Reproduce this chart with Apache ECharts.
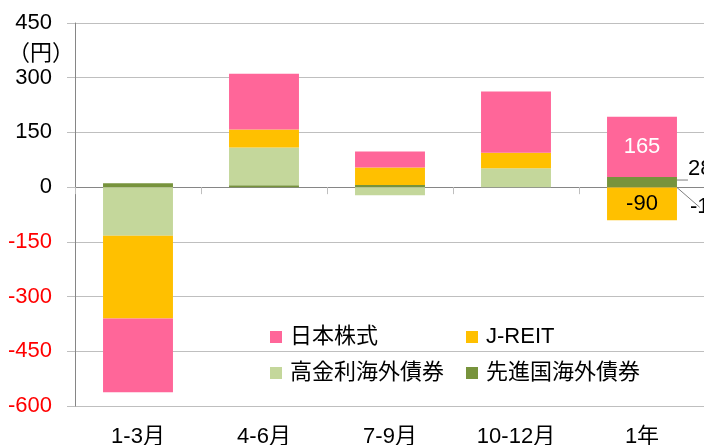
<!DOCTYPE html>
<html><head><meta charset="utf-8">
<script src="https://cdn.jsdelivr.net/npm/echarts@6/dist/echarts.min.js"></script>
<style>html,body{margin:0;padding:0;background:#fff}#c{width:704px;height:445px}</style>
</head><body><div id="c"></div>
<script>
const categories = ['1-3月', '4-6月', '7-9月', '10-12月', '1年'];
const seriesNames = ['先進国海外債券', '高金利海外債券', 'J-REIT', '日本株式'];
const developedBonds = [11, 5, 6, 0, 28];
const highYieldBonds = [-133, 104, -22, 52, -1];
const jreit = [-227, 49, 48, 42, -90];
const japanStocks = [-202, 153, 44, 168, 165];
const yTicks = { min: -600, max: 450, interval: 150 };
const unitLabel = '（円）';

const FONT = "'Liberation Sans', 'Noto Sans CJK JP', sans-serif";
const colors = { '日本株式': '#FF6699', 'J-REIT': '#FFC000', '高金利海外債券': '#C4D79B', '先進国海外債券': '#77933C' };
const values = { '先進国海外債券': developedBonds, '高金利海外債券': highYieldBonds, 'J-REIT': jreit, '日本株式': japanStocks };
const lastIdx = categories.length - 1;

function makeData(name) {
  return values[name].map((v, i) => {
    if (i !== lastIdx) return v;
    const item = { value: v };
    if (name === '日本株式') item.label = { show: true, position: 'inside', color: '#fff' };
    if (name === 'J-REIT') item.label = { show: true, position: 'inside', color: '#000' };
    if (name === '先進国海外債券') {
      item.label = { show: true, position: 'right', distance: 11, offset: [0, -13], color: '#000' };
      item.labelLine = { show: true, lineStyle: { color: '#7f7f7f', width: 1 } };
    }
    if (name === '高金利海外債券') {
      item.label = { show: true, position: 'right', distance: 13, offset: [0, 20], color: '#000' };
      item.labelLine = { show: true, lineStyle: { color: '#7f7f7f', width: 1 } };
    }
    return item;
  });
}

const series = seriesNames.map(name => ({
  name, type: 'bar', stack: 'total', barWidth: '55.5%',
  xAxisIndex: 0,
  itemStyle: { color: colors[name] },
  label: { show: false, fontSize: 22, fontFamily: FONT },
  labelLine: { show: false },
  emphasis: { disabled: true },
  data: makeData(name)
}));

function legend(name, left, top) {
  return {
    data: [name], left, top, padding: 0, itemWidth: 12, itemHeight: 12, itemGap: 0,
    icon: 'rect', selectedMode: false,
    textStyle: { fontSize: 22, fontFamily: FONT, color: '#000', padding: [0, 0, 0, 3] }
  };
}

const chart = echarts.init(document.getElementById('c'), null, { renderer: 'canvas' });
chart.setOption({
  animation: false,
  backgroundColor: '#fff',
  textStyle: { fontFamily: FONT },
  grid: { left: 75, top: 23, width: 630, bottom: 39, containLabel: false, outerBoundsMode: 'none' },
  legend: [
    legend('日本株式', 270, 326),
    legend('J-REIT', 466, 326),
    legend('高金利海外債券', 270, 362),
    legend('先進国海外債券', 466, 362)
  ],
  graphic: [{
    type: 'text', left: 8, top: 41,
    style: { text: unitLabel, fontSize: 22, fontFamily: "'Noto Sans CJK JP', sans-serif", fill: '#000' }
  }],
  xAxis: [{
    type: 'category', data: categories, position: 'bottom',
    axisLine: { onZero: true, lineStyle: { color: '#868686', width: 1 } },
    axisTick: { show: true, interval: 0, length: 7, lineStyle: { color: '#bfbfbf' } },
    axisLabel: { show: false }, splitLine: { show: false }
  }, {
    type: 'category', data: categories, position: 'bottom',
    axisLine: { show: false, onZero: false }, axisTick: { show: false },
    axisLabel: { show: true, fontSize: 22, fontFamily: FONT, color: '#000', margin: 20 },
    splitLine: { show: false }
  }],
  yAxis: {
    type: 'value', min: yTicks.min, max: yTicks.max, interval: yTicks.interval,
    axisLine: { show: true, onZero: false, lineStyle: { color: '#868686' } },
    axisTick: { show: true, length: 8, lineStyle: { color: '#bfbfbf' } },
    axisLabel: { fontSize: 22, fontFamily: FONT, margin: 23,
      color: v => (v < 0 ? '#FF0000' : '#000000') },
    splitLine: { show: true, lineStyle: { color: '#bfbfbf', width: 1 } }
  },
  series
});
</script></body></html>
